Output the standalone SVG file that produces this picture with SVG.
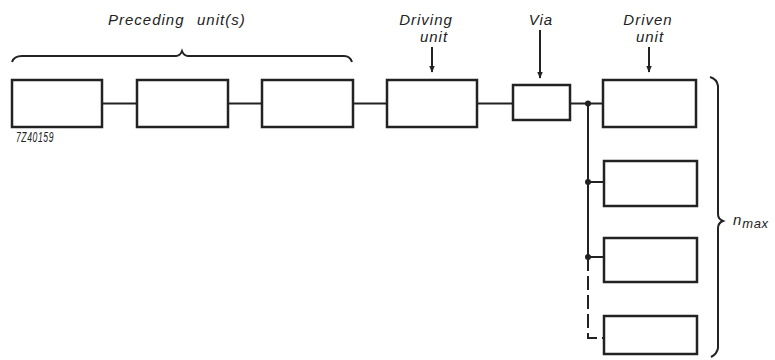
<svg xmlns="http://www.w3.org/2000/svg" width="775" height="360" viewBox="0 0 775 360">
<defs>
<style>
.box{fill:none;stroke:#222;stroke-width:2.5}
.ln{fill:none;stroke:#222;stroke-width:2}
.t{font-family:"Liberation Sans",Arial,sans-serif;font-style:italic;font-size:15px;letter-spacing:1px;fill:#222}
</style>
<marker id="ah" viewBox="0 0 10 10" refX="9" refY="5" markerWidth="7" markerHeight="7" orient="auto" markerUnits="userSpaceOnUse">
<path d="M0,1 L10,5 L0,9 Z" fill="#222"/>
</marker>
</defs>
<rect width="775" height="360" fill="#fff"/>
<g id="connectors">
<path class="ln" d="M102,103.5 H137 M228,103.5 H262 M353,103.5 H387 M477,103.5 H513 M570,103.5 H603"/>
<path class="ln" d="M588,103.5 V257 M588,182 H604 M588,257 H604"/>
<path class="ln" d="M588,257 V338 H604" stroke-dasharray="14,5"/>
<circle cx="588" cy="103.5" r="3" fill="#222"/>
<circle cx="588" cy="182" r="3" fill="#222"/>
<circle cx="588" cy="257" r="3" fill="#222"/>
<path class="ln" d="M432,47 V72" marker-end="url(#ah)" stroke-width="1.5"/>
<path class="ln" d="M540,30 V78" marker-end="url(#ah)" stroke-width="1.5"/>
<path class="ln" d="M649,47 V72" marker-end="url(#ah)" stroke-width="1.5"/>
</g>
<g id="brace-preceding">
<path class="ln" stroke-width="1.8" d="M12,62 Q14,56 22,56 L176,56 Q180,56 182,51 Q184,56 188,56 L344,56 Q350,56 352,62"/>
<text class="t" x="108" y="25">Preceding</text>
<text class="t" x="197" y="25">unit(s)</text>
</g>
<g id="brace-nmax">
<path class="ln" stroke-width="1.8" d="M710,77 Q717,79 718,86 L718,214 Q718,219 723,221 Q718,223 718,228 L718,348 Q717,354 711,357"/>
<text class="t" x="733" y="225" font-size="16" letter-spacing="0">n<tspan font-size="13" dy="3" letter-spacing="0.5">max</tspan></text>
</g>
<g id="unit1"><rect class="box" x="12" y="80" width="90" height="47"/></g>
<g id="unit2"><rect class="box" x="137" y="80" width="91" height="47"/></g>
<g id="unit3"><rect class="box" x="262" y="80" width="91" height="47"/></g>
<g id="driving"><rect class="box" x="387" y="80" width="90" height="47"/>
<text class="t" x="426" y="25" text-anchor="middle">Driving</text>
<text class="t" x="434" y="42" text-anchor="middle">unit</text></g>
<g id="via"><rect class="box" x="513" y="85" width="57" height="35"/>
<text class="t" x="541" y="25" text-anchor="middle">Via</text></g>
<g id="driven1"><rect class="box" x="603" y="80" width="93" height="47"/>
<text class="t" x="648" y="25" text-anchor="middle">Driven</text>
<text class="t" x="650" y="42" text-anchor="middle">unit</text></g>
<g id="driven2"><rect class="box" x="604" y="161" width="93" height="45"/></g>
<g id="driven3"><rect class="box" x="604" y="238" width="93" height="44"/></g>
<g id="driven4"><rect class="box" x="604" y="316" width="93" height="38"/></g>
<text class="t" x="16" y="142" font-size="9" letter-spacing="0" textLength="38" lengthAdjust="spacingAndGlyphs">7Z40159</text>
</svg>
